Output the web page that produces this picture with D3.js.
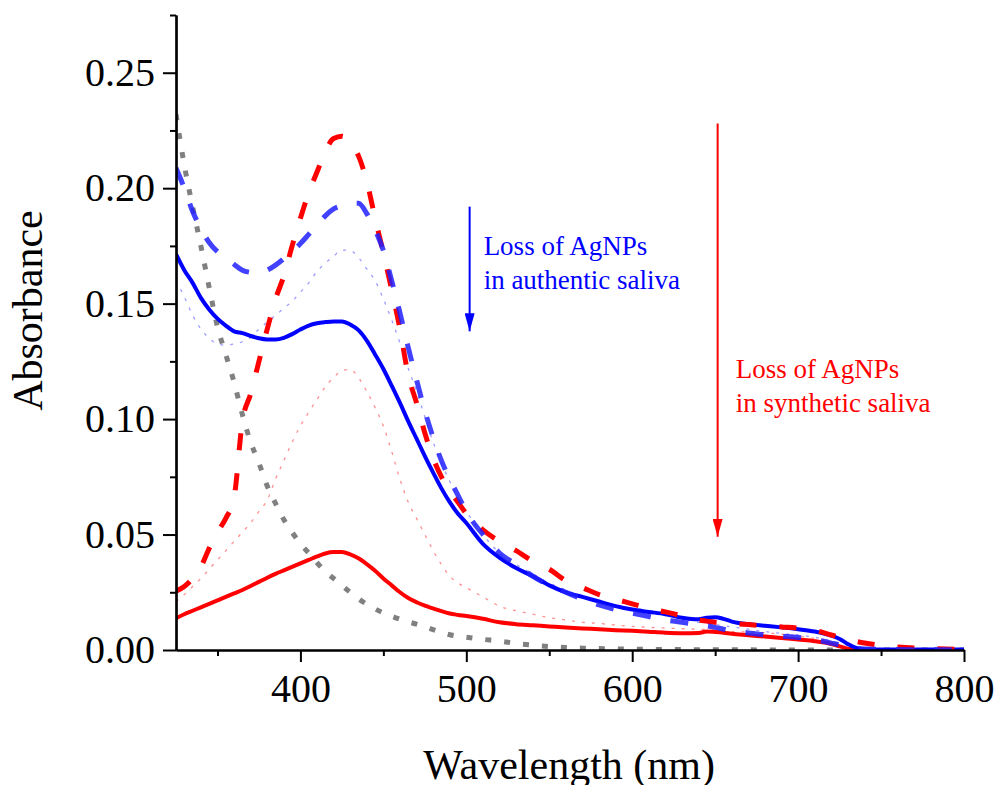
<!DOCTYPE html>
<html>
<head>
<meta charset="utf-8">
<script src="https://cdn.jsdelivr.net/npm/d3@7"></script>
<style>
  body { margin: 0; background: #fff; }
  svg text { font-family: "Liberation Serif", "Times New Roman", serif; }
</style>
</head>
<body>
<svg id="chart" width="998" height="785"></svg>
<script>
// wavelength grid (nm)
const wavelength = [325,330,335,340,345,350,355,360,365,370,375,380,385,390,395,400,405,410,415,420,425,430,435,440,445,450,455,460,465,470,475,480,485,490,495,500,510,520,530,540,550,560,570,580,590,600,610,620,630,640,645,650,655,660,670,680,690,700,710,720,725,730,735,740,750,760,780,800];

// saliva without particles (grey dotted)
const salivaBlank = [.232,.210,.192,.175,.157,.140,.128,.116,.102,.090,.081,.071,.0635,.0565,.051,.046,.042,.0378,.034,.031,.028,.025,.0222,.0198,.0178,.016,.0146,.0133,.0122,.0112,.0101,.0088,.0076,.0066,.006,.0055,.0046,.0039,.0028,.0021,.0015,.0011,.0008,.0006,.0005,.0004,.0003,.0002,.0002,.0001,.0001,.0001,.0001,.0001,.0001,0,0,0,0,0,0,0,0,0,0,0,0,0];

// synthetic saliva: start (red dashed), middle (pink dotted), end (red solid)
const synthStart = [.0255,.0275,.031,.036,.044,.051,.057,.066,.099,.111,.125,.139,.152,.162,.175,.187,.198,.207,.216,.2215,.2225,.220,.214,.203,.187,.172,.156,.139,.119,.107,.094,.083,.075,.069,.064,.059,.052,.047,.043,.0385,.035,.030,.027,.024,.022,.020,.018,.0165,.0148,.013,.0125,.012,.0118,.0115,.011,.0105,.010,.0095,.0085,.0065,.0055,.0045,.0037,.003,.002,.0013,.0006,.0003];
const synthMid = [.021,.024,.0275,.031,.035,.039,.043,.047,.051,.055,.060,.065,.074,.082,.090,.097,.103,.1085,.114,.118,.121,.1215,.118,.112,.105,.097,.086,.074,.064,.057,.050,.043,.037,.032,.029,.027,.023,.019,.017,.0155,.014,.013,.012,.0115,.0108,.0102,.0098,.0095,.0092,.009,.0088,.0086,.0083,.008,.0078,.0075,.0068,.006,.005,.0035,.002,.001,0,0,0,0,0,0];
const synthEnd = [.0138,.0155,.017,.0185,.020,.0215,.023,.0245,.026,.0277,.0295,.0313,.033,.0345,.036,.0375,.039,.0405,.0418,.0424,.0424,.0414,.0397,.0372,.0343,.031,.028,.025,.0225,.0207,.0192,.018,.0168,.0158,.0152,.0147,.0135,.012,.0112,.0107,.0102,.0097,.0093,.009,.0086,.0083,.0079,.0075,.0073,.0074,.008,.0078,.0075,.007,.0064,.0058,.0052,.0045,.0038,.0026,.0016,.0006,0,0,0,0,0,0];

// authentic saliva: start (blue dashed), middle (light blue dotted), end (blue solid)
const authStart = [.2087,.200,.190,.1825,.1765,.1725,.170,.167,.1645,.1635,.163,.1645,.1667,.1695,.1725,.176,.180,.184,.188,.191,.1925,.1935,.1935,.189,.182,.173,.160,.146,.131,.117,.1036,.092,.082,.074,.067,.060,.050,.042,.037,.032,.028,.025,.022,.0195,.0175,.016,.0145,.013,.012,.011,.0105,.0098,.009,.0083,.0074,.0066,.006,.0054,.0045,.003,.0022,.0012,.0007,.0004,.0003,.0002,.0001,0];
const authMid = [.160,.153,.145,.139,.135,.1325,.132,.1325,.1335,.1355,.139,.142,.145,.148,.151,.155,.159,.164,.1675,.1705,.1732,.173,.170,.165,.160,.152,.143,.133,.122,.112,.101,.090,.081,.073,.066,.060,.050,.042,.037,.033,.029,.026,.023,.021,.0195,.018,.0165,.015,.0135,.012,.0115,.011,.0105,.010,.009,.008,.0072,.0065,.0055,.004,.003,.002,.001,.0005,0,0,0,0];
const authEnd = [.1715,.1645,.159,.1525,.1475,.1435,.1405,.138,.1372,.136,.135,.1345,.1345,.1352,.1368,.1388,.1405,.1415,.142,.1423,.1423,.141,.1385,.134,.128,.1217,.1145,.107,.099,.0915,.084,.0768,.070,.064,.059,.055,.046,.040,.0355,.032,.028,.025,.023,.021,.019,.0175,.0165,.0155,.014,.0133,.014,.0142,.0135,.0123,.0112,.0105,.0098,.009,.008,.0062,.0048,.0026,.0009,.0003,.0002,.0002,.0002,.0002];

const xMajorTicks = [400, 500, 600, 700, 800];
const xMinorTicks = [350, 450, 550, 650, 750];
const yMajorTicks = [0, 0.05, 0.10, 0.15, 0.20, 0.25];
const yMinorTicks = [0.025, 0.075, 0.125, 0.175, 0.225, 0.275];

const margin = { top: 15, right: 34, bottom: 135, left: 176 };
const W = 998, H = 785;
const width = W - margin.left - margin.right,
  height = H - margin.top - margin.bottom;

const x = d3.scaleLinear().domain([325, 800]).range([0, width]);
const y = d3.scaleLinear().domain([0, 0.275]).range([height, 0]);

const svg = d3.select("#chart");
const g = svg.append("g")
  .attr("transform", "translate(" + margin.left + "," + margin.top + ")");

// series, drawn in this order (last on top)
const series = [
  { values: salivaBlank, color: "#808080", width: 5, dash: "6,13", opacity: 1 },
  { values: synthMid, color: "#ff9090", width: 1.3, dash: "3,7", opacity: 1 },
  { values: authMid, color: "#9d9dff", width: 1.3, dash: "3,7", opacity: 1 },
  { values: synthEnd, color: "#ff0000", width: 4, dash: null, opacity: 1 },
  { values: authEnd, color: "#0000ff", width: 4, dash: null, opacity: 1 },
  { values: synthStart, color: "#ff0000", width: 5, dash: "17,23", opacity: 1 },
  { values: authStart, color: "#2020ff", width: 5, dash: "18,20", opacity: 0.85 }
];

const line = d3.line()
  .x((d) => x(d[0]))
  .y((d) => y(d[1]))
  .curve(d3.curveMonotoneX);

g.append("clipPath").attr("id", "plotArea")
  .append("rect").attr("x", 0).attr("y", -2).attr("width", width + 2).attr("height", height + 2);

series.forEach((s) => {
  g.append("path")
    .datum(wavelength.map((w, i) => [w, s.values[i]]))
    .attr("clip-path", "url(#plotArea)")
    .attr("fill", "none")
    .attr("stroke", s.color)
    .attr("stroke-width", s.width)
    .attr("stroke-dasharray", s.dash)
    .attr("stroke-opacity", s.opacity)
    .attr("d", line);
});

// x axis
const xAxis = g.append("g")
  .attr("transform", "translate(0," + height + ")")
  .call(d3.axisBottom(x).tickValues(xMajorTicks).tickSize(12).tickSizeOuter(0).tickPadding(12));
g.append("g")
  .attr("transform", "translate(0," + height + ")")
  .call(d3.axisBottom(x).tickValues(xMinorTicks).tickSize(6).tickSizeOuter(0).tickFormat(""));

// y axis
const yAxis = g.append("g")
  .call(d3.axisLeft(y).tickValues(yMajorTicks).tickSize(13).tickSizeOuter(0).tickPadding(8).tickFormat(d3.format(".2f")));
g.append("g")
  .call(d3.axisLeft(y).tickValues(yMinorTicks).tickSize(6).tickSizeOuter(0).tickFormat(""));

g.selectAll(".domain").attr("stroke", "#000").attr("stroke-width", 2.2);
g.selectAll(".tick line").attr("stroke", "#000").attr("stroke-width", 2);
xAxis.selectAll("text").attr("font-size", 40).attr("fill", "#000")
  .attr("font-family", "Liberation Serif, serif");
yAxis.selectAll("text").attr("font-size", 40).attr("fill", "#000")
  .attr("font-family", "Liberation Serif, serif");

// axis titles
svg.append("text")
  .attr("transform", "translate(42," + (margin.top + y(0.147)) + ") rotate(-90)")
  .attr("text-anchor", "middle")
  .attr("font-size", 42)
  .text("Absorbance");

svg.append("text")
  .attr("x", margin.left + x(562))
  .attr("y", 779)
  .attr("text-anchor", "middle")
  .attr("font-size", 42)
  .text("Wavelength (nm)");

// annotation arrows
const defs = svg.append("defs");
[["blueHead", "#0000ff"], ["redHead", "#ff0000"]].forEach(([id, c]) => {
  defs.append("marker")
    .attr("id", id)
    .attr("viewBox", "0 0 10 18")
    .attr("refX", 5).attr("refY", 18)
    .attr("markerWidth", 10).attr("markerHeight", 18)
    .attr("markerUnits", "userSpaceOnUse")
    .attr("orient", "0")
    .append("path")
    .attr("d", "M0,0 L10,0 L5,18 Z")
    .attr("fill", c);
});

const notes = [
  { wl: 502, top: 0.192, bottom: 0.138, color: "#0000ff", head: "blueHead",
    lines: ["Loss of AgNPs", "in authentic saliva"], tx: 14, ty: 0.171 },
  { wl: 651.5, top: 0.228, bottom: 0.049, color: "#ff0000", head: "redHead",
    lines: ["Loss of AgNPs", "in synthetic saliva"], tx: 18, ty: 0.118 }
];

notes.forEach((n) => {
  g.append("line")
    .attr("x1", x(n.wl)).attr("x2", x(n.wl))
    .attr("y1", y(n.top)).attr("y2", y(n.bottom))
    .attr("stroke", n.color).attr("stroke-width", 2)
    .attr("marker-end", "url(#" + n.head + ")");
  n.lines.forEach((t, i) => {
    g.append("text")
      .attr("x", x(n.wl) + n.tx)
      .attr("y", y(n.ty) + i * 34)
      .attr("fill", n.color)
      .attr("font-size", 27)
      .text(t);
  });
});
</script>
</body>
</html>
